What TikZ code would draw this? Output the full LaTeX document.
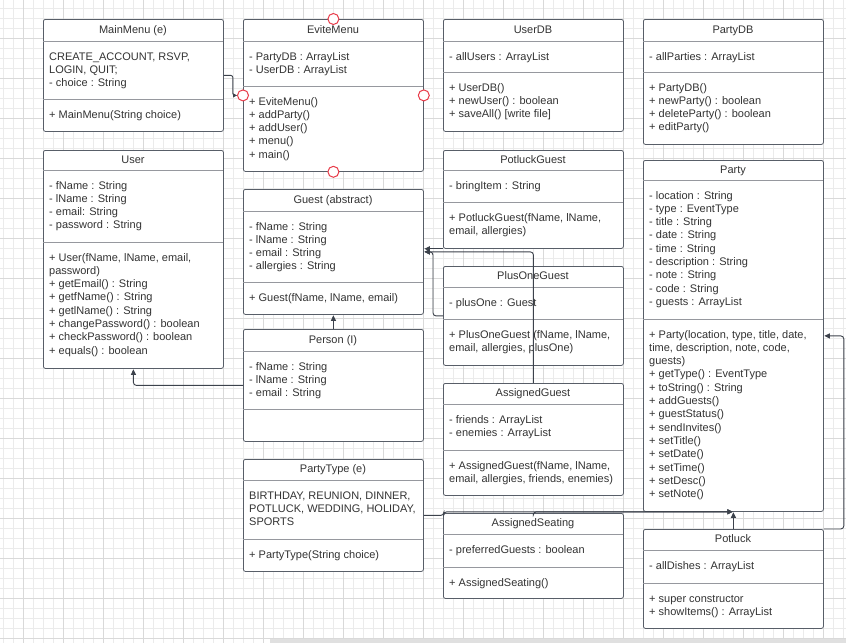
\documentclass[tikz,border=0pt]{standalone}
\usepackage{fontspec}
\setmainfont{Liberation Sans}
\usetikzlibrary{arrows.meta}

\definecolor{boxline}{RGB}{88,94,104}
\definecolor{divgray}{RGB}{150,152,158}
\definecolor{textgray}{RGB}{51,51,51}
\definecolor{linkgray}{RGB}{60,66,76}
\definecolor{handlered}{RGB}{232,58,72}

\tikzset{
  classbox/.style={draw=boxline, line width=0.8pt, fill=white, rounded corners=2pt,
    anchor=north west, minimum width=180pt, inner sep=0pt},
  divline/.style={draw=divgray, line width=0.8pt},
  titletext/.style={anchor=base, inner sep=0pt, text=textgray, font=\fontsize{11}{13.3}\selectfont},
  membertext/.style={anchor=north west, inner sep=0pt, align=left, text=textgray,
    font=\fontsize{11}{13.3}\selectfont},
  assoc/.style={draw=linkgray, line width=0.9pt, rounded corners=3pt,
    -{Triangle[length=5.5pt,width=5pt]}, shorten >=0.5pt},
  handle/.style={draw=handlered, line width=1pt, fill=white},
  gridminor/.style={draw=black!8, line width=0.6pt},
  gridmajor/.style={draw=black!15, line width=1pt}
}

\begin{document}
\begin{tikzpicture}[x=1pt, y=-1pt]

	\useasboundingbox (0,0) rectangle (846,643);
	\fill[white] (0,0) rectangle (846,643);

	% grille de fond
	\foreach \x in {3,13,...,843} \draw[gridminor] (\x,0) -- (\x,643);
	\foreach \y in {8,18,...,638} \draw[gridminor] (0,\y) -- (846,\y);
	\foreach \x in {23,63,...,823} \draw[gridmajor] (\x,0) -- (\x,643);
	\foreach \y in {38,78,...,638} \draw[gridmajor] (0,\y) -- (846,\y);
	\fill[black!12] (270,639) rectangle (846,643);

	% nom, gauche, haut, bas, separation 1, separation 2, titre, attributs, methodes
	\def\umlclass#1#2#3#4#5#6#7#8#9{
		\node[classbox, minimum height={(#4-#3)*1pt}] (#1) at (#2,#3) {};
		\draw[divline] (#2,#5) -- ++(180,0);
		\draw[divline] (#2,#6) -- ++(180,0);
		\node[titletext] (#1-title) at (#2+90,{(#3+#5)/2+3}) {#7};
		\node[membertext] (#1-attrs) at (#2+6,#5+9.5) {\strut #8};
		\node[membertext] (#1-ops) at (#2+6,#6+9.5) {\strut #9};
	}

	\umlclass{MainMenu}{43}{19}{131}{41}{99}{MainMenu (e)}
		{CREATE\_ACCOUNT, RSVP,\\LOGIN, QUIT;\\- choice : String}
		{+ MainMenu(String choice)}
	\umlclass{EviteMenu}{243}{19}{171}{41}{86}{EviteMenu}
		{- PartyDB : ArrayList\\- UserDB : ArrayList}
		{+ EviteMenu()\\+ addParty()\\+ addUser()\\+ menu()\\+ main()}
	\umlclass{UserDB}{443}{19}{131}{41}{72}{UserDB}
		{- allUsers : ArrayList}
		{+ UserDB()\\+ newUser() : boolean\\+ saveAll() [write file]}
	\umlclass{PartyDB}{643}{19}{144}{41}{72}{PartyDB}
		{- allParties : ArrayList}
		{+ PartyDB()\\+ newParty() : boolean\\+ deleteParty() : boolean\\+ editParty()}
	\umlclass{User}{43}{150}{368}{170}{242}{User}
		{- fName : String\\- lName : String\\- email: String\\- password : String}
		{+ User(fName, lName, email,\\password)\\+ getEmail() : String\\+ getfName() : String\\+ getlName() : String\\+ changePassword() : boolean\\+ checkPassword() : boolean\\+ equals() : boolean}
	\umlclass{Guest}{243}{189}{314}{211}{282}{Guest (abstract)}
		{- fName : String\\- lName : String\\- email : String\\- allergies : String}
		{+ Guest(fName, lName, email)}
	\umlclass{Person}{243}{329}{441}{351}{409}{Person (I)}
		{- fName : String\\- lName : String\\- email : String}
		{}
	\umlclass{PartyType}{243}{459}{571}{480}{539}{PartyType (e)}
		{BIRTHDAY, REUNION, DINNER,\\POTLUCK, WEDDING, HOLIDAY,\\SPORTS}
		{+ PartyType(String choice)}
	\umlclass{PotluckGuest}{443}{150}{248}{170}{202}{PotluckGuest}
		{- bringItem : String}
		{+ PotluckGuest(fName, lName,\\email, allergies)}
	\umlclass{PlusOneGuest}{443}{266}{365}{287}{319}{PlusOneGuest}
		{- plusOne : Guest}
		{+ PlusOneGuest (fName, lName,\\email, allergies, plusOne)}
	\umlclass{AssignedGuest}{443}{383}{495}{404}{450}{AssignedGuest}
		{- friends : ArrayList\\- enemies : ArrayList}
		{+ AssignedGuest(fName, lName,\\email, allergies, friends, enemies)}
	\umlclass{AssignedSeating}{443}{513}{598}{534}{567}{AssignedSeating}
		{- preferredGuests : boolean}
		{+ AssignedSeating()}
	\umlclass{Party}{643}{160}{511}{180}{319}{Party}
		{- location : String\\- type : EventType\\- title : String\\- date : String\\- time : String\\- description : String\\- note : String\\- code : String\\- guests : ArrayList}
		{+ Party(location, type, title, date,\\time, description, note, code,\\guests)\\+ getType() : EventType\\+ toString() : String\\+ addGuests()\\+ guestStatus()\\+ sendInvites()\\+ setTitle()\\+ setDate()\\+ setTime()\\+ setDesc()\\+ setNote()}
	\umlclass{Potluck}{643}{529}{628}{550}{583}{Potluck}
		{- allDishes : ArrayList}
		{+ super constructor\\+ showItems() : ArrayList}

	% liens
	\draw[assoc, rounded corners=2pt, -{Triangle[length=4pt,width=4pt]}]
		(MainMenu.east) -- ++(9,0) |- ([xshift=-5.5pt]EviteMenu.west);
	\draw[assoc] (Person.north) -- (Guest.south);
	\draw[assoc] (Person.west) -| (User.south);
	\draw[assoc] (PotluckGuest.south west) -- (Guest.east |- PotluckGuest.south west);
	\draw[assoc] (PlusOneGuest.west) -- ++(-10,0) |- (Guest.east);
	\draw[assoc] (AssignedGuest.north) |- (Guest.east);
	\draw[assoc] (PartyType.east) -- ++(20,0) |- (Party.south);
	\draw[assoc] (AssignedSeating.north) |- (Party.south);
	\draw[assoc] (Potluck.north) -- (Party.south);
	\draw[assoc] (Potluck.north east) -- ++(20,0) |- (Party.east);

	% poignees de selection
	\foreach \side in {north,south,east,west}
		\draw[handle] (EviteMenu.\side) circle[radius=5.5pt];

\end{tikzpicture}
\end{document}
